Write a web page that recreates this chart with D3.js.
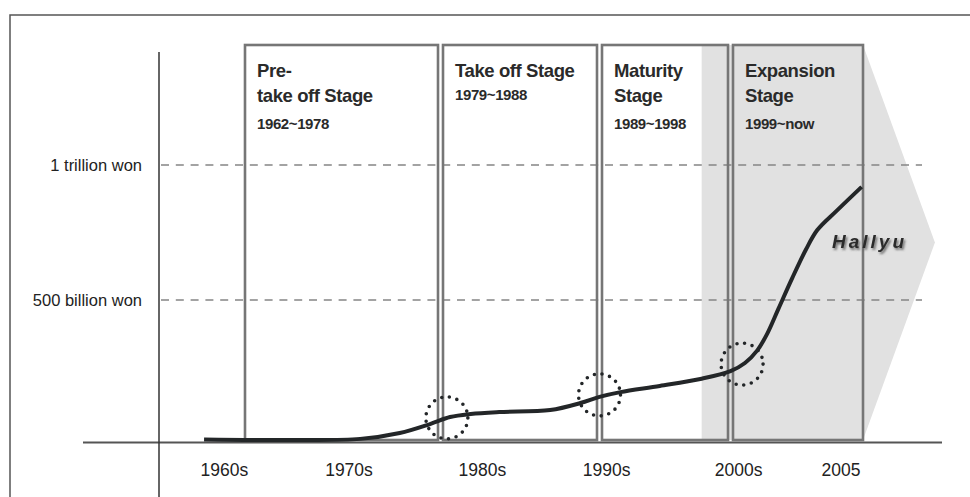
<!DOCTYPE html>
<html>
<head>
<meta charset="utf-8">
<script src="https://cdn.jsdelivr.net/npm/d3@7"></script>
<style>
  body { margin: 0; background: #fff; }
  svg { display: block; font-family: "Liberation Sans", Arial, sans-serif; }
</style>
</head>
<body>
<svg class="svg-canvas" width="970" height="497"></svg>
<script>
// stages of the Korean cultural industry
var stageNames = [["Pre-", "take off Stage"], ["Take off Stage"], ["Maturity", "Stage"], ["Expansion", "Stage"]];
var stageYears = ["1962~1978", "1979~1988", "1989~1998", "1999~now"];
var stageStart = [1962, 1979, 1989, 1999];
var stageEnd = [1979, 1989, 1999, 2006];

// x axis labels and where they sit (years)
var tickLabels = ["1960s", "1970s", "1980s", "1990s", "2000s", "2005"];
var tickYears = [1960.4, 1971.1, 1981.6, 1989.5, 1999.4, 2004.7];

// y gridlines (billion won)
var gridValues = [500, 1000];
var gridLabels = ["500 billion won", "1 trillion won"];

// market size curve (year, billion won)
var curveYears = [1958.7, 1966.9, 1972.1, 1975.5, 1978.1, 1979.6, 1980.9, 1982.7, 1985.9, 1987.8,
  1989.0, 1990.6, 1993.6, 1996.7, 1999.0, 1999.75, 2000.4, 2000.9, 2001.5, 2002.2, 2002.9, 2003.5, 2004.5, 2005.8];
var curveValues = [2, 0, 4, 25, 57, 82, 93, 100, 107, 132,
  154, 171, 193, 218, 246, 275, 321, 379, 471, 581, 685, 759, 830, 919];

// dotted circles at the stage transitions
var markYears = [1979.4, 1989.0, 1999.6];
var markValues = [79, 161, 271];

// Hallyu shading
var hallyuStart = 1996.8;
var hallyuTip = 2009.6;

var svg = d3.select(".svg-canvas");
var boxTop = 45, boxBottom = 440;

var x = d3.scaleLinear()
  .domain([1962, 1979, 1989, 1999, 2006])
  .range([242.5, 440.5, 599.5, 730.5, 865.5]);
var y = d3.scaleLinear()
  .domain([0, 500, 1000])
  .range([440, 300, 165]);

var defs = svg.append("defs");
var shadow = defs.append("filter").attr("id", "shadow")
  .attr("x", "-10%").attr("y", "-20%").attr("width", "130%").attr("height", "160%");
shadow.append("feDropShadow")
  .attr("dx", 1.5).attr("dy", 2).attr("stdDeviation", 1.3)
  .attr("flood-color", "#444").attr("flood-opacity", 0.75);

// outer frame
svg.append("rect")
  .attr("x", 10).attr("y", 15).attr("width", 1000).attr("height", 600)
  .attr("fill", "none").attr("stroke", "#555").attr("stroke-width", 1.5);

// Hallyu shading with arrow head
var xEnd = x(stageEnd[3]) - 2.5;
svg.append("path")
  .attr("d", "M" + x(hallyuStart) + "," + boxTop +
    "L" + xEnd + "," + boxTop +
    "L" + x(hallyuTip) + "," + ((boxTop + boxBottom) / 2) +
    "L" + xEnd + "," + boxBottom +
    "L" + x(hallyuStart) + "," + boxBottom + "Z")
  .attr("fill", "#e1e1e1");

// gridlines
svg.selectAll(".grid")
  .data(gridValues).enter()
  .append("line")
  .attr("class", "grid")
  .attr("x1", 161).attr("x2", 922)
  .attr("y1", function(d) { return y(d); })
  .attr("y2", function(d) { return y(d); })
  .attr("stroke", "#858585").attr("stroke-width", 1.3)
  .attr("stroke-dasharray", "8,6.8");

svg.selectAll(".grid-label")
  .data(gridValues).enter()
  .append("text")
  .attr("x", 142)
  .attr("y", function(d) { return y(d) + 6; })
  .attr("text-anchor", "end")
  .attr("font-size", "16.5px")
  .attr("fill", "#222")
  .text(function(d, i) { return gridLabels[i]; });

// stage boxes
var boxes = svg.selectAll(".stage")
  .data(stageStart).enter()
  .append("g")
  .attr("class", "stage");

boxes.append("rect")
  .attr("x", function(d) { return x(d) + 2.5; })
  .attr("y", boxTop)
  .attr("width", function(d, i) { return x(stageEnd[i]) - x(d) - 5; })
  .attr("height", boxBottom - boxTop)
  .attr("fill", "none")
  .attr("stroke", "#767676")
  .attr("stroke-width", 2.6);

boxes.each(function(d, i) {
  var g = d3.select(this);
  var tx = x(d) + 14.5;
  stageNames[i].forEach(function(line, j) {
    g.append("text")
      .attr("x", tx).attr("y", 76.5 + j * 25)
      .attr("font-size", "18.5px").attr("font-weight", "bold")
      .attr("letter-spacing", "-0.4px")
      .attr("fill", "#2a2a2a")
      .text(line);
  });
  g.append("text")
    .attr("x", tx)
    .attr("y", stageNames[i].length > 1 ? 129 : 100)
    .attr("font-size", "15px").attr("font-weight", "bold")
    .attr("letter-spacing", "-0.4px")
    .attr("fill", "#2a2a2a")
    .text(stageYears[i]);
});

// axes lines
svg.append("line")
  .attr("x1", 83).attr("x2", 942).attr("y1", 442.5).attr("y2", 442.5)
  .attr("stroke", "#555").attr("stroke-width", 2);
svg.append("line")
  .attr("x1", 159).attr("x2", 159).attr("y1", 52).attr("y2", 497)
  .attr("stroke", "#333").attr("stroke-width", 1.5);

// x axis labels
var xAxis = d3.axisBottom(x)
  .tickValues(tickYears)
  .tickSize(0)
  .tickPadding(0)
  .tickFormat(function(d, i) { return tickLabels[i]; });
var gx = svg.append("g")
  .attr("transform", "translate(0,464)")
  .call(xAxis);
gx.select(".domain").remove();
gx.selectAll("text")
  .attr("font-family", "Liberation Sans, Arial, sans-serif")
  .attr("font-size", "17.5px")
  .attr("fill", "#222")
  .attr("dy", "0.71em");

// market curve
var line = d3.line()
  .x(function(d, i) { return x(curveYears[i]); })
  .y(function(d) { return y(d); })
  .curve(d3.curveCatmullRom.alpha(0.5));
svg.append("path")
  .attr("d", line(curveValues))
  .attr("fill", "none")
  .attr("stroke", "#232628")
  .attr("stroke-width", 4)
  .attr("stroke-linecap", "butt");

// dotted circles
var r = 21;
var gap = 2 * Math.PI * r / 17;
svg.selectAll(".mark")
  .data(markYears).enter()
  .append("circle")
  .attr("class", "mark")
  .attr("cx", function(d) { return x(d); })
  .attr("cy", function(d, i) { return y(markValues[i]); })
  .attr("r", r)
  .attr("fill", "none")
  .attr("stroke", "#232628")
  .attr("stroke-width", 3.6)
  .attr("stroke-linecap", "round")
  .attr("stroke-dasharray", "0," + gap);

// Hallyu label
svg.append("text")
  .attr("x", 832).attr("y", 248)
  .attr("font-size", "19px").attr("font-weight", "bold").attr("font-style", "italic")
  .attr("letter-spacing", "3px")
  .attr("fill", "#2b2b2b")
  .attr("filter", "url(#shadow)")
  .text("Hallyu");
</script>
</body>
</html>
